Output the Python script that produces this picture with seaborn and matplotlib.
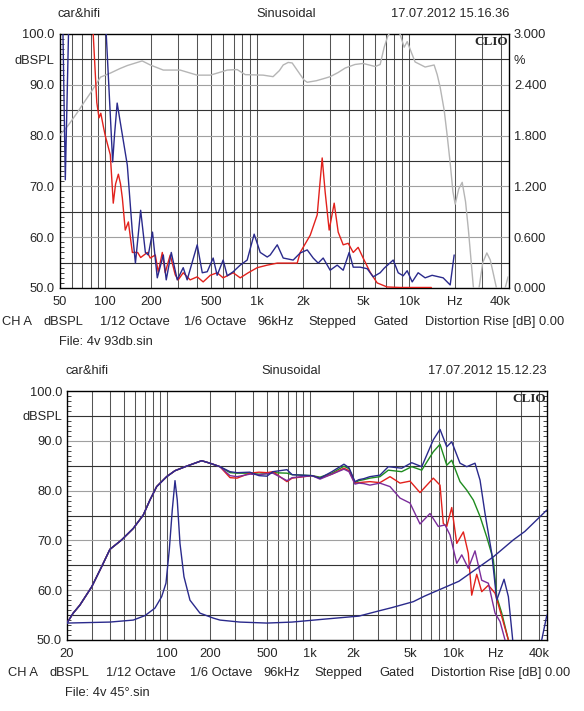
import matplotlib
matplotlib.use("Agg")
import matplotlib.pyplot as plt
import matplotlib.ticker as mticker
import seaborn as sns

W, H = 584, 711
FS = 9.3

# -------------------------------------
# TOP: distortion (fundamental, 2nd and 3rd harmonic)
# -------------------------------------
fund_hz = [50, 57, 65, 72, 80, 93, 108, 125, 140, 175,
           198, 241, 311, 403, 491, 560, 635, 738, 834, 1095,
           1272, 1400, 1483, 1599, 1699, 1870, 2038, 2134, 2450, 2800,
           3020, 3400, 3793, 4400, 4980, 5975, 6445, 6850, 7200, 7500,
           7850, 8600, 9270, 9710, 10300, 10940, 12740, 14600, 15300, 16000,
           17000, 17780, 18620, 19400, 20090, 21200, 22340, 23500, 24550, 26400,
           27500, 29000, 30500, 32450, 34200, 36000, 38500, 42000, 44770]
fund_db = [80.0, 82.0, 84.4, 86.4, 88.4, 91.5, 92.3, 93.2, 93.8, 94.7,
           93.9, 92.9, 92.9, 91.9, 91.9, 92.4, 92.9, 93.0, 92.0, 91.9,
           91.6, 92.8, 93.9, 94.4, 94.3, 92.5, 90.9, 90.5, 90.8, 91.3,
           91.6, 92.4, 93.3, 94.0, 94.2, 93.6, 94.0, 97.4, 99.4, 100.5,
           101.0, 100.5, 97.4, 98.5, 96.5, 94.5, 93.5, 93.9, 92.0, 89.5,
           85.0, 80.1, 74.6, 69.0, 66.5, 69.5, 70.8, 67.0, 61.4, 50.5,
           46.0, 50.5, 55.0, 56.9, 55.5, 52.5, 48.5, 49.0, 52.2]

h2_hz = [80, 83, 88, 91, 93.5, 97.3, 100, 108, 112.9, 117,
         122, 126, 129.6, 135.4, 142, 150.8, 163.4, 171, 189.5, 197.7,
         213.5, 223.4, 237.4, 248, 267.7, 288.8, 302, 326, 362, 403,
         441, 491, 545, 597, 695, 773, 873, 1000, 1164, 1355,
         1574, 1833, 1919, 2234, 2483, 2558, 2677, 2800, 2976, 3211,
         3412, 3680, 3971, 4285, 4617, 4980, 5538, 6158, 7167, 8727,
         11810, 14000]
h2_db = [106, 101, 86.5, 83.5, 84.4, 81.7, 80.0, 76.2, 66.7, 70.5,
         72.4, 70.5, 67.7, 61.4, 63.0, 57.0, 57.0, 56.0, 57.0, 55.9,
         56.5, 53.1, 57.0, 53.0, 56.5, 52.6, 51.6, 53.0, 51.6, 52.2,
         51.2, 52.5, 53.0, 52.0, 53.0, 52.0, 53.0, 54.0, 54.5, 54.9,
         54.9, 54.9, 57.0, 60.4, 64.4, 68.9, 75.6, 68.9, 61.4, 66.7,
         61.0, 58.5, 58.8, 57.0, 58.0, 55.9, 53.1, 51.0, 50.2, 50.1,
         50.1, 50.1]

h3_hz = [50, 52.7, 54.6, 57.3, 60, 95, 101.5, 111.9, 115, 119.8,
         125, 139.7, 150.8, 158, 171, 183.7, 192, 204.6, 220, 241,
         252, 272, 297.7, 326, 346, 403, 435, 469, 513, 545,
         597, 635, 695, 773, 859, 955, 1047, 1164, 1218, 1355,
         1483, 1725, 1919, 2134, 2336, 2519, 2718, 3020, 3360, 3680,
         4030, 4285, 4763, 5295, 5797, 6445, 6850, 7852, 8472, 9136,
         9707, 10470, 11460, 12740, 14160, 16740, 18620, 19780]
h3_db = [110, 100, 71.3, 100, 110, 110, 100, 74.8, 80.0, 86.4,
         83.0, 74.2, 61.0, 54.9, 65.3, 57.0, 56.5, 61.0, 52.0, 56.5,
         51.6, 57.0, 51.6, 54.0, 51.6, 58.5, 53.0, 53.2, 55.9, 52.5,
         55.5, 52.4, 53.2, 54.5, 55.5, 60.6, 57.0, 56.1, 56.5, 58.5,
         55.9, 55.5, 56.9, 57.5, 55.9, 54.9, 55.9, 53.5, 54.5, 53.5,
         57.0, 54.1, 54.1, 53.8, 52.2, 53.0, 53.9, 55.5, 53.0, 52.4,
         53.4, 51.2, 53.0, 52.0, 52.5, 52.0, 50.6, 56.5]

# -------------------------------------
# BOTTOM: frequency response at several angles + impedance
# -------------------------------------
low_hz = [20, 22.1, 24.6, 29.8, 34.9, 39.9, 48.2, 58.1, 68.3, 76,
          84.7, 99.5, 113.8, 137, 174.8, 200, 234.7]
low_db = [53.4, 55.4, 57.0, 60.7, 64.7, 68.2, 70.1, 72.4, 75.1, 78.1,
          80.8, 82.8, 84.0, 84.9, 86.0, 85.5, 84.8]

blue_hz = [276, 309, 380, 440, 500, 550, 690, 750, 1033, 1175,
           1423, 1727, 1873, 2063, 2199, 2380, 2624, 3083, 3528, 4378,
           5143, 6043, 7280, 8110, 9040, 9795, 11190, 12470, 14250, 15450,
           16740, 18650, 20210, 22740, 24380, 26140, 28000, 39000, 41700, 45300]
blue_db = [83.8, 83.6, 83.7, 83.0, 82.9, 83.8, 84.2, 83.2, 83.0, 82.5,
           83.8, 85.3, 84.6, 81.8, 82.2, 82.4, 82.8, 83.1, 84.8, 84.5,
           85.6, 84.8, 90.2, 92.3, 88.8, 89.8, 85.5, 84.8, 85.5, 82.1,
           75.4, 67.4, 58.0, 62.2, 58.7, 50.0, 44.0, 44.0, 50.0, 55.0]

green_hz = [276, 309, 380, 440, 500, 550, 690, 750, 1033, 1175,
            1423, 1727, 1873, 2063, 2199, 2380, 2624, 3083, 3528, 4378,
            5143, 6043, 7280, 8110, 9040, 9795, 11190, 12470, 13870, 15450,
            17200, 19140, 20210, 21910, 24380, 27000]
green_db = [83.6, 83.5, 83.5, 83.3, 83.4, 83.6, 83.5, 83.2, 83.0, 82.7,
            83.5, 84.9, 84.4, 81.6, 82.0, 82.2, 82.5, 82.8, 84.1, 83.8,
            84.8, 84.1, 87.8, 89.3, 85.1, 86.1, 81.8, 80.1, 78.1, 74.8,
            70.7, 66.1, 58.7, 55.4, 50.0, 45.0]

red_hz = [276, 309, 380, 440, 500, 550, 690, 750, 1033, 1175,
          1423, 1727, 1873, 2063, 2199, 2380, 2624, 3083, 3626, 4259,
          5003, 5877, 7280, 8110, 8550, 9040, 9795, 10620, 11810, 12790,
          13510, 14650, 15870, 17670, 19670, 21910, 24380, 27000]
red_db = [82.6, 82.5, 83.5, 83.7, 83.6, 83.8, 81.8, 82.5, 83.0, 82.5,
          83.3, 84.5, 84.0, 81.5, 81.6, 81.7, 81.8, 81.6, 82.8, 81.5,
          81.9, 79.6, 82.5, 81.1, 73.4, 72.8, 76.6, 69.4, 71.7, 67.4,
          59.0, 63.2, 59.7, 61.0, 59.4, 54.7, 50.0, 45.0]

purple_hz = [276, 309, 380, 440, 500, 550, 690, 750, 1033, 1175,
             1423, 1727, 1873, 2063, 2199, 2380, 2624, 3083, 3626, 4259,
             5003, 5877, 6904, 7890, 8790, 9525, 10620, 11510, 12790, 14250,
             15870, 17670, 19670, 21320, 23100, 26000]
purple_db = [83.0, 82.8, 83.3, 83.2, 83.4, 83.5, 82.0, 82.6, 83.0, 82.3,
             83.3, 84.3, 83.8, 81.3, 81.5, 81.4, 81.1, 81.5, 80.8, 78.5,
             77.5, 73.3, 75.4, 72.8, 73.1, 71.1, 65.4, 67.1, 64.4, 67.9,
             62.0, 61.4, 55.4, 53.7, 50.0, 45.0]

imp_hz = [20, 39.9, 58.1, 70.2, 82.4, 91.8, 98.4, 103.8, 108.9, 113.8,
          118, 123.3, 131.5, 144.8, 170, 210.6, 234.7, 324, 500, 749,
          1272, 2199, 3083, 3734, 5278, 6310, 11000, 19140, 26400, 31780,
          45300]
imp_db = [53.4, 53.6, 54.0, 54.9, 56.4, 58.7, 61.4, 68.1, 76.1, 82.0,
          78.1, 69.4, 62.7, 58.0, 55.4, 54.4, 54.0, 53.6, 53.4, 53.6,
          54.2, 54.8, 55.9, 56.5, 57.7, 58.8, 61.8, 66.7, 70.1, 71.8,
          76.1]

# axis labels
left_ticks = [50, 60, 70, 80, 90, 95, 100]
left_labels = ["50.0", "60.0", "70.0", "80.0", "90.0", "dBSPL", "100.0"]
pct_ticks = [0, 0.6, 1.2, 1.8, 2.4, 2.7, 3.0]
pct_labels = ["0.000", "0.600", "1.200", "1.800", "2.400", "%", "3.000"]
top_xticks = [50, 100, 200, 500, 1000, 2000, 5000, 10000, 20000, 40000]
top_xlabels = ["50", "100", "200", "500", "1k", "2k", "5k", "10k", "Hz", "40k"]
bot_xticks = [20] + top_xticks[1:]
bot_xlabels = ["20"] + top_xlabels[1:]
footer = ["CH A", "dBSPL", "1/12 Octave", "1/6 Octave", "96kHz",
          "Stepped", "Gated", "Distortion Rise [dB] 0.00"]
footer_x = [2, 43, 100, 184, 257, 308, 373, 425]

BLUE = "#2a2a8c"
RED = "#e2211c"
GREEN = "#1f8c1f"
PURPLE = "#7b2d9b"
GRAY = "#b5b5b5"

sns.set_style("white")
plt.rcParams["font.family"] = ["Liberation Sans", "DejaVu Sans"]
plt.rcParams["font.size"] = FS


def px_box(l, t, r, b):
    return [l / W, 1 - b / H, (r - l) / W, (b - t) / H]


def ftext(x, y, s, **kw):
    fig.text(x / W, 1 - y / H, s, va="center", fontsize=FS, **kw)


def grid_freqs(fmin):
    out = []
    for dec in [10, 100, 1000]:
        out += [dec * k for k in range(1, 10)]
    out += [10000, 20000, 30000, 40000]
    return [f for f in out if f > fmin]


def setup(ax, fmin, xticks, xlabels):
    ax.set_xscale("log")
    ax.set_xlim(fmin, 45400)
    ax.set_ylim(50, 100)
    for f in grid_freqs(fmin):
        ax.axvline(f, color="#555555", lw=0.75, zorder=0.5)
    for lvl in range(55, 100, 5):
        ax.axhline(lvl, color="#333333" if lvl % 10 else "#a0a0a0", lw=0.8, zorder=0.5)
    ax.set_xticks(xticks)
    ax.set_xticklabels(xlabels)
    ax.xaxis.set_minor_locator(mticker.NullLocator())
    ax.tick_params(axis="x", length=0, pad=5.5, labelsize=FS)
    ax.set_yticks(left_ticks)
    ax.set_yticklabels(left_labels)
    ax.yaxis.set_minor_locator(mticker.MultipleLocator(1))
    ax.tick_params(axis="y", which="major", length=0, pad=3.5, labelsize=FS)
    ax.tick_params(axis="y", which="minor", direction="in", length=3,
                   width=0.6, left=True, right=True)
    for sp in ax.spines.values():
        sp.set_color("black")
        sp.set_linewidth(1.0)
    ax.set_xlabel("")
    ax.set_ylabel("")
    ax.text(0.998, 0.993, "CLIO", transform=ax.transAxes, ha="right", va="top",
            family="Liberation Serif", fontweight="bold", fontsize=9.5, zorder=5)


def curve(ax, hz, db, color, lw=1.0):
    sns.lineplot(x=hz, y=db, ax=ax, color=color, lw=lw, estimator=None,
                 sort=False, zorder=3)


fig = plt.figure(figsize=(W / 100, H / 100), dpi=100)

# ---- top panel ----
ax1 = fig.add_axes(px_box(59.5, 34, 509, 288))
setup(ax1, 50, top_xticks, top_xlabels)
curve(ax1, fund_hz, fund_db, GRAY)
curve(ax1, h2_hz, h2_db, RED)
curve(ax1, h3_hz, h3_db, BLUE)
ax1.set_xlim(50, 45400)
ax1.set_ylim(50, 100)

ax1r = ax1.twinx()
ax1r.set_ylim(0, 3)
ax1r.set_yticks(pct_ticks)
ax1r.set_yticklabels(pct_labels)
ax1r.tick_params(axis="y", length=0, pad=3.5, labelsize=FS)
ax1r.grid(False)
for sp in ax1r.spines.values():
    sp.set_visible(False)

ftext(58, 14, "car&hifi", ha="left")
ftext(286, 14, "Sinusoidal", ha="center")
ftext(509, 14, "17.07.2012 15.16.36", ha="right")
for s, x in zip(footer, footer_x):
    ftext(x, 322, s, ha="left")
ftext(59, 342, "File: 4v 93db.sin", ha="left")

# ---- bottom panel ----
ax2 = fig.add_axes(px_box(67, 391, 547, 640))
setup(ax2, 20, bot_xticks, bot_xlabels)
curve(ax2, low_hz + green_hz, low_db + green_db, GREEN)
curve(ax2, low_hz + red_hz, low_db + red_db, RED)
curve(ax2, low_hz + purple_hz, low_db + purple_db, PURPLE)
curve(ax2, low_hz + blue_hz, low_db + blue_db, BLUE)
curve(ax2, imp_hz, imp_db, BLUE)
ax2.set_xlim(20, 45400)
ax2.set_ylim(50, 100)

ftext(65, 371, "car&hifi", ha="left")
ftext(291, 371, "Sinusoidal", ha="center")
ftext(547, 371, "17.07.2012 15.12.23", ha="right")
for s, x in zip(footer, footer_x):
    ftext(x + 6, 673, s, ha="left")
ftext(65, 693, "File: 4v 45°.sin", ha="left")

fig.savefig("out.png", dpi=100)
